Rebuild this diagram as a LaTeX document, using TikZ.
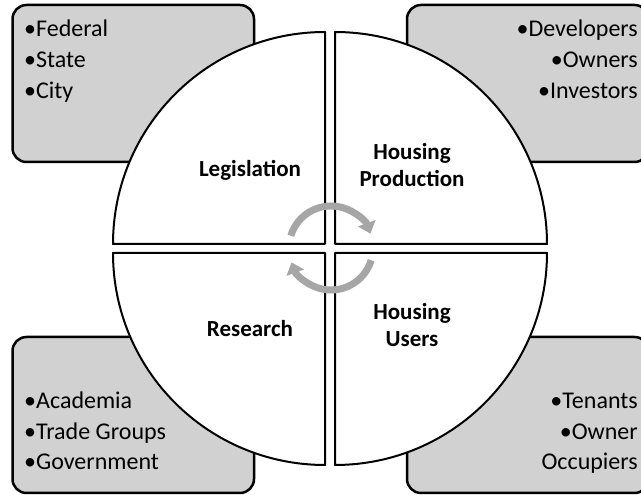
\documentclass[tikz,border=0pt]{standalone}
\usepackage{fontspec}
\setmainfont{Carlito}
\usetikzlibrary{arrows.meta}
\definecolor{panelgray}{RGB}{209,209,209}
\definecolor{cyclegray}{RGB}{166,166,166}
\begin{document}
\begin{tikzpicture}[x=1pt,y=1pt,
  panel/.style={draw=black, fill=panelgray, line width=2.5pt, rounded corners=14pt},
  quadrant/.style={draw=black, fill=white, line width=2pt, line join=round},
  listtext/.style={inner sep=0pt, font=\fontsize{24}{31}\selectfont},
  quadlabel/.style={inner sep=0pt, anchor=base, font=\fontsize{23}{28}\selectfont\bfseries},
  cyclearrow/.style={draw=cyclegray, line width=7pt, -{Triangle[width=18pt,length=11pt]}}]
\useasboundingbox (0,0) rectangle (641,495);
\clip (0,0) rectangle (641,495);

% corner panels
\draw[panel] (12.5,333) rectangle (254,490);
\draw[panel] (407,333) rectangle (648.5,490);
\draw[panel] (12.5,2) rectangle (254,158);
\draw[panel] (407,2) rectangle (648.5,158);

% four quarter discs
\draw[quadrant] (325,251) -- ++(-212,0) arc[start angle=180, end angle=90, radius=212] -- cycle;
\draw[quadrant] (335,251) -- ++(0,212) arc[start angle=90, end angle=0, radius=212] -- cycle;
\draw[quadrant] (325,242) -- ++(0,-212) arc[start angle=270, end angle=180, radius=212] -- cycle;
\draw[quadrant] (335,242) -- ++(212,0) arc[start angle=0, end angle=-90, radius=212] -- cycle;

% cycle arrows
\coordinate (hub) at (331,247);
\draw[cyclearrow] (hub) ++(163:42) arc[start angle=163, end angle=20, radius=42];
\draw[cyclearrow] (hub) ++(-17:42) arc[start angle=-17, end angle=-160, radius=42];

% quadrant titles
\node[quadlabel] (legis) at (250,318) {Legislation};
\node[quadlabel] (prodA) at (412,335) {Housing};
\node[quadlabel] (prodB) at (412,308) {Production};
\node[quadlabel] (research) at (250,158) {Research};
\node[quadlabel] (usersA) at (412,175) {Housing};
\node[quadlabel] (usersB) at (412,148) {Users};

% panel lists
\node[listtext, anchor=base west] (fed) at (24,458) {•Federal};
\node[listtext, anchor=base west] (state) at (24,427) {•State};
\node[listtext, anchor=base west] (city) at (24,396) {•City};

\node[listtext, anchor=base east] (dev) at (638,458) {•Developers};
\node[listtext, anchor=base east] (own) at (638,427) {•Owners};
\node[listtext, anchor=base east] (inv) at (638,396) {•Investors};

\node[listtext, anchor=base west] (acad) at (24,86) {•Academia};
\node[listtext, anchor=base west] (trade) at (24,55) {•Trade Groups};
\node[listtext, anchor=base west] (gov) at (24,25) {•Government};

\node[listtext, anchor=base east] (ten) at (638,86) {•Tenants};
\node[listtext, anchor=base east] (ownocc) at (638,55) {•Owner};
\node[listtext, anchor=base east] (occ) at (638,25) {Occupiers};
\end{tikzpicture}
\end{document}
